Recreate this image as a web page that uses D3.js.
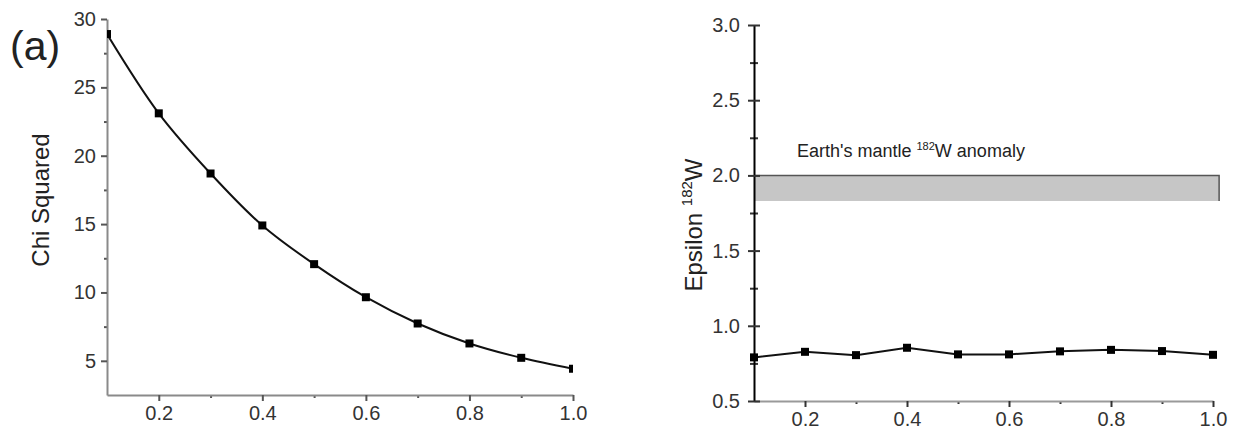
<!DOCTYPE html>
<html>
<head>
<meta charset="utf-8">
<script src="https://cdn.jsdelivr.net/npm/d3@7"></script>
<style>
  body { margin: 0; background: #fff; }
  svg { font-family: "Liberation Sans", Arial, sans-serif; }
  .tick text { fill: #333; }
</style>
</head>
<body>
<script>
// fraction values on the x axis of both panels
const fractions = [0.1, 0.2, 0.3, 0.4, 0.5, 0.6, 0.7, 0.8, 0.9, 1.0];
// panel (a): chi squared
const chiSquared = [28.9, 23.1, 18.7, 14.9, 12.07, 9.65, 7.73, 6.27, 5.22, 4.42];
// panel (b): epsilon 182W
const epsilonW = [0.79, 0.827, 0.805, 0.854, 0.81, 0.81, 0.83, 0.84, 0.832, 0.807];
// Earth's mantle anomaly band
const mantleBand = [1.83, 2.0];
const mantleBandX = [0.1, 1.012];

const xMajor = [0.2, 0.4, 0.6, 0.8, 1.0];
const xMinor = [0.3, 0.5, 0.7, 0.9];
const chiMajor = [5, 10, 15, 20, 25, 30];
const chiMinor = [7.5, 12.5, 17.5, 22.5, 27.5];
const epsMajor = [0.5, 1.0, 1.5, 2.0, 2.5, 3.0];
const epsMinor = [0.75, 1.25, 1.75, 2.25, 2.75];

const svg = d3.select("body").append("svg").attr("width", 1238).attr("height", 432);

const fmt1 = d3.format(".1f");

// ---------- panel (a) ----------
const xa = d3.scaleLinear().domain([0.1, 1.0]).range([107, 573]);
const ya = d3.scaleLinear().domain([2.5, 30]).range([395, 19]);

const gA = svg.append("g");

gA.append("clipPath").attr("id", "clipA")
  .append("rect").attr("x", xa(0.1)).attr("y", 0).attr("width", xa(1.0) - xa(0.1)).attr("height", ya(2.5));

// minor ticks
gA.append("g").attr("transform", `translate(0,${ya(2.5)})`)
  .call(d3.axisBottom(xa).tickValues(xMinor).tickSize(3).tickFormat(""))
  .call(g => g.select(".domain").remove());
gA.append("g").attr("transform", `translate(${xa(0.1)},0)`)
  .call(d3.axisLeft(ya).tickValues(chiMinor).tickSize(3).tickFormat(""))
  .call(g => g.select(".domain").remove());

gA.append("g").attr("transform", `translate(0,${ya(2.5)})`)
  .call(d3.axisBottom(xa).tickValues(xMajor).tickSize(6).tickPadding(5).tickSizeOuter(0).tickFormat(fmt1));
gA.append("g").attr("transform", `translate(${xa(0.1)},0)`)
  .call(d3.axisLeft(ya).tickValues(chiMajor).tickSize(6).tickPadding(5).tickSizeOuter(0));

gA.selectAll(".tick line").attr("stroke", "#555").attr("stroke-width", 2);
gA.selectAll(".domain").attr("stroke", "#8a8a8a").attr("stroke-width", 2);
gA.selectAll(".tick text").attr("font-size", 20);

const lineA = d3.line().x((d, i) => xa(fractions[i])).y(d => ya(d)).curve(d3.curveCatmullRom);
const plotA = gA.append("g").attr("clip-path", "url(#clipA)");
plotA.append("path").datum(chiSquared)
  .attr("d", lineA).attr("fill", "none").attr("stroke", "#111").attr("stroke-width", 2);
plotA.selectAll("rect.pt").data(chiSquared).join("rect").attr("class", "pt")
  .attr("x", (d, i) => xa(fractions[i]) - 4).attr("y", d => ya(d) - 4)
  .attr("width", 8).attr("height", 8).attr("fill", "#000");

gA.append("text").attr("transform", "translate(49,200) rotate(-90)")
  .attr("text-anchor", "middle").attr("font-size", 24).attr("fill", "#222").text("Chi Squared");
gA.append("text").attr("x", 10).attr("y", 60).attr("font-size", 41).attr("fill", "#222").text("(a)");

// ---------- panel (b) ----------
const xb = d3.scaleLinear().domain([0.1, 1.0]).range([754, 1213]);
const yb = d3.scaleLinear().domain([0.5, 3.0]).range([401, 25]);

const gB = svg.append("g");

// band
gB.append("rect")
  .attr("x", xb(mantleBandX[0])).attr("y", yb(mantleBand[1]))
  .attr("width", xb(mantleBandX[1]) - xb(mantleBandX[0]))
  .attr("height", yb(mantleBand[0]) - yb(mantleBand[1]))
  .attr("fill", "#c6c6c6");
gB.append("path")
  .attr("d", `M${xb(mantleBandX[0])},${yb(mantleBand[1])}H${xb(mantleBandX[1])}V${yb(mantleBand[0])}`)
  .attr("fill", "none").attr("stroke", "#555").attr("stroke-width", 1.5);

gB.append("text").attr("x", 797).attr("y", 157).attr("font-size", 18).attr("fill", "#222")
  .call(t => {
    t.append("tspan").text("Earth's mantle ");
    t.append("tspan").attr("font-size", 11).attr("dy", -7).text("182");
    t.append("tspan").attr("dy", 7).text("W anomaly");
  });

// x axis (gray)
gB.append("g").attr("transform", `translate(0,${yb(0.5)})`)
  .call(d3.axisBottom(xb).tickValues(xMinor).tickSize(3).tickFormat(""))
  .call(g => g.select(".domain").remove());
gB.append("g").attr("transform", `translate(0,${yb(0.5)})`)
  .call(d3.axisBottom(xb).tickValues(xMajor).tickSize(6).tickPadding(5).tickSizeOuter(0).tickFormat(fmt1))
  .call(g => g.select(".domain").attr("stroke", "#9a9a9a").attr("stroke-width", 2));

// y axis (black), ticks crossing the line
gB.append("g").attr("transform", `translate(${xb(0.1)},0)`)
  .call(d3.axisLeft(yb).tickValues(epsMinor).tickSize(4).tickFormat(""))
  .call(g => g.select(".domain").remove())
  .call(g => g.selectAll(".tick line").attr("x1", 4));
gB.append("g").attr("transform", `translate(${xb(0.1)},0)`)
  .call(d3.axisLeft(yb).tickValues(epsMajor).tickSize(6).tickPadding(8).tickSizeOuter(0).tickFormat(fmt1))
  .call(g => g.selectAll(".tick line").attr("x1", 6))
  .call(g => g.select(".domain").attr("stroke", "#000").attr("stroke-width", 2));

gB.selectAll(".tick line").attr("stroke", "#333").attr("stroke-width", 2);
gB.selectAll(".tick text").attr("font-size", 20);

const lineB = d3.line().x((d, i) => xb(fractions[i])).y(d => yb(d));
gB.append("path").datum(epsilonW)
  .attr("d", lineB).attr("fill", "none").attr("stroke", "#111").attr("stroke-width", 2);
gB.selectAll("rect.pt").data(epsilonW).join("rect").attr("class", "pt")
  .attr("x", (d, i) => xb(fractions[i]) - 4).attr("y", d => yb(d) - 4)
  .attr("width", 8).attr("height", 8).attr("fill", "#000");

gB.append("text").attr("transform", "translate(702,225) rotate(-90)")
  .attr("text-anchor", "middle").attr("font-size", 24).attr("fill", "#222")
  .call(t => {
    t.append("tspan").text("Epsilon ");
    t.append("tspan").attr("font-size", 15).attr("dy", -10).text("182");
    t.append("tspan").attr("dy", 10).text("W");
  });
</script>
</body>
</html>
